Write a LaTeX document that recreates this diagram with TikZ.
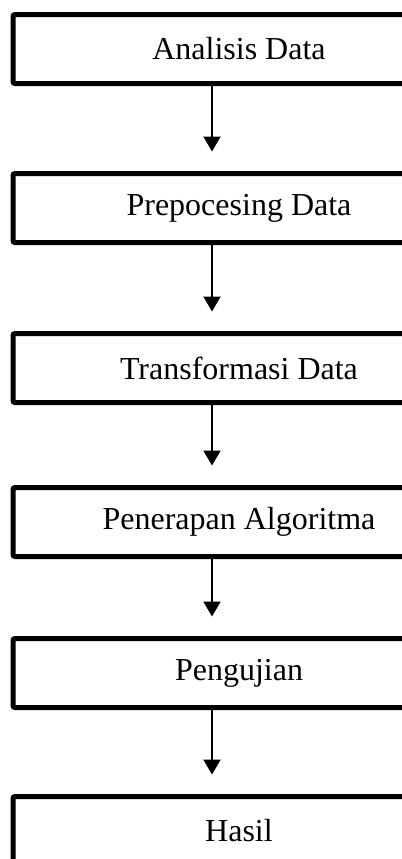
\documentclass[tikz,border=0pt]{standalone}
\usepackage{fontspec}
\setmainfont{Liberation Serif}
\usetikzlibrary{positioning,arrows.meta}

\tikzset{
  stage/.style={draw, line width=2.5pt, rounded corners=1pt, minimum width=226pt,
    minimum height=34.5pt, outer sep=0pt, inner sep=0pt, font=\fontsize{16}{19}\selectfont},
  flow/.style={line width=1pt, -{Triangle[length=7.5pt,width=8.5pt]}, shorten >=11pt}
}

\begin{document}
\begin{tikzpicture}[x=0.5pt, y=-0.5pt]
        \useasboundingbox (0,0) rectangle (402,859);
        \clip (0,0) rectangle (402,859);

        \node (analisis) [stage] at (239, 49) {Analisis Data};
        \node (prepro) [stage, below=45pt of analisis] {Prepocesing Data};
        \node (transform) [stage, below=45.5pt of prepro] {Transformasi Data};
        \node (algo) [stage, below=42.5pt of transform] {Penerapan Algoritma};
        \node (uji) [stage, below=41pt of algo] {Pengujian};
        \node (hasil) [stage, below=44.5pt of uji] {Hasil};

%%         arrows sit left of the text centre
        \coordinate (spine) at (212, 0);

        \draw[flow] (analisis.south -| spine) -- (prepro.north -| spine);
        \draw[flow] (prepro.south -| spine) -- (transform.north -| spine);
        \draw[flow] (transform.south -| spine) -- (algo.north -| spine);
        \draw[flow] (algo.south -| spine) -- (uji.north -| spine);
        \draw[flow] (uji.south -| spine) -- (hasil.north -| spine);
      \end{tikzpicture}
\end{document}
